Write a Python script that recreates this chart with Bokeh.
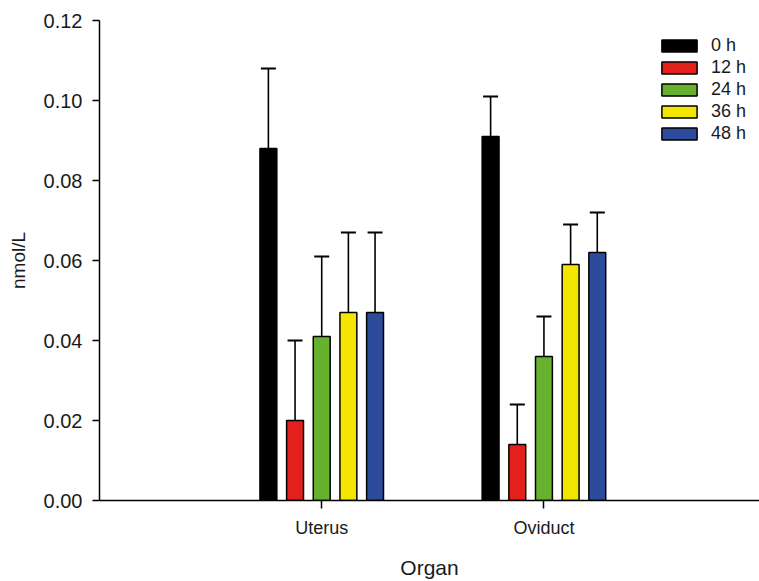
from bokeh.plotting import figure
from bokeh.models import (ColumnDataSource, Range1d, FixedTicker, PrintfTickFormatter,
                          Whisker, TeeHead, Legend, LegendItem)
from bokeh.embed import file_html
from bokeh.resources import INLINE

organs = ["Uterus", "Oviduct"]
times = ["0 h", "12 h", "24 h", "36 h", "48 h"]
colors = ["#000000", "#e3201b", "#66b22f", "#f2e500", "#2c4b9b"]
# means per time point: [Uterus, Oviduct]
means = {
    "0 h": [0.088, 0.091],
    "12 h": [0.020, 0.014],
    "24 h": [0.041, 0.036],
    "36 h": [0.047, 0.059],
    "48 h": [0.047, 0.062],
}
errors = {
    "0 h": [0.020, 0.010],
    "12 h": [0.020, 0.010],
    "24 h": [0.020, 0.010],
    "36 h": [0.020, 0.010],
    "48 h": [0.020, 0.010],
}
y_ticks = [0.00, 0.02, 0.04, 0.06, 0.08, 0.10, 0.12]

FONT = "Liberation Sans"
offsets = [-0.24, -0.12, 0.0, 0.12, 0.24]
bar_w = 0.076
base_pos = [i + 1 for i in range(len(organs))]

p = figure(width=759, height=581, output_backend="svg", toolbar_location=None,
           x_range=Range1d(0, 2.97), y_range=Range1d(0, 0.12),
           min_border_left=99, min_border_right=0, min_border_top=20,
           min_border_bottom=81)
p.outline_line_color = None
p.xgrid.visible = False
p.ygrid.visible = False
p.background_fill_color = "white"
p.border_fill_color = "white"

items = []
for t, c, off in zip(times, colors, offsets):
    xs = [b + off for b in base_pos]
    top = means[t]
    up = [m + e for m, e in zip(means[t], errors[t])]
    src = ColumnDataSource(dict(x=xs, top=top, up=up))
    wh = Whisker(source=src, base="x", lower="top", upper="up",
                 dimension="height", line_color="black", line_width=1.6,
                 upper_head=TeeHead(size=15, line_color="black", line_width=1.8),
                 lower_head=None)
    p.add_layout(wh)
    r = p.vbar(x="x", top="top", width=bar_w, bottom=0, source=src,
               fill_color=c, line_color="black", line_width=1.5)
    items.append(LegendItem(label=t, renderers=[r]))

legend = Legend(items=items, location=(558, 356), padding=0, margin=0,
                border_line_color=None, background_fill_alpha=0,
                glyph_width=44, glyph_height=15, label_height=15, spacing=1,
                label_standoff=10, label_text_font=FONT,
                label_text_font_size="18px", label_text_color="#1a1a1a")
p.add_layout(legend, "center")

# x axis
p.xaxis.ticker = FixedTicker(ticks=base_pos)
p.xaxis.major_label_overrides = {b: o for b, o in zip(base_pos, organs)}
p.xaxis.axis_label = "Organ"
p.xaxis.minor_tick_line_color = None
p.xaxis.major_tick_in = 0
p.xaxis.major_tick_out = 8
p.xaxis.axis_line_width = 1.5
p.xaxis.major_tick_line_width = 1.5
p.xaxis.major_label_text_font = FONT
p.xaxis.major_label_text_font_size = "18px"
p.xaxis.major_label_text_color = "#1a1a1a"
p.xaxis.major_label_standoff = 9
p.xaxis.axis_label_text_font = FONT
p.xaxis.axis_label_text_font_size = "21px"
p.xaxis.axis_label_text_font_style = "normal"
p.xaxis.axis_label_text_color = "#1a1a1a"
p.xaxis.axis_label_standoff = 15

# y axis
p.yaxis.ticker = FixedTicker(ticks=y_ticks)
p.yaxis.formatter = PrintfTickFormatter(format="%.2f")
p.yaxis.axis_label = "nmol/L"
p.yaxis.minor_tick_line_color = None
p.yaxis.major_tick_in = 0
p.yaxis.major_tick_out = 7
p.yaxis.axis_line_width = 1.5
p.yaxis.major_tick_line_width = 1.5
p.yaxis.major_label_text_font = FONT
p.yaxis.major_label_text_font_size = "20px"
p.yaxis.major_label_text_color = "#1a1a1a"
p.yaxis.major_label_standoff = 10
p.yaxis.axis_label_text_font = FONT
p.yaxis.axis_label_text_font_size = "19px"
p.yaxis.axis_label_text_font_style = "normal"
p.yaxis.axis_label_text_color = "#1a1a1a"
p.yaxis.axis_label_standoff = 12

open("out.html", "w").write(file_html(p, INLINE))
